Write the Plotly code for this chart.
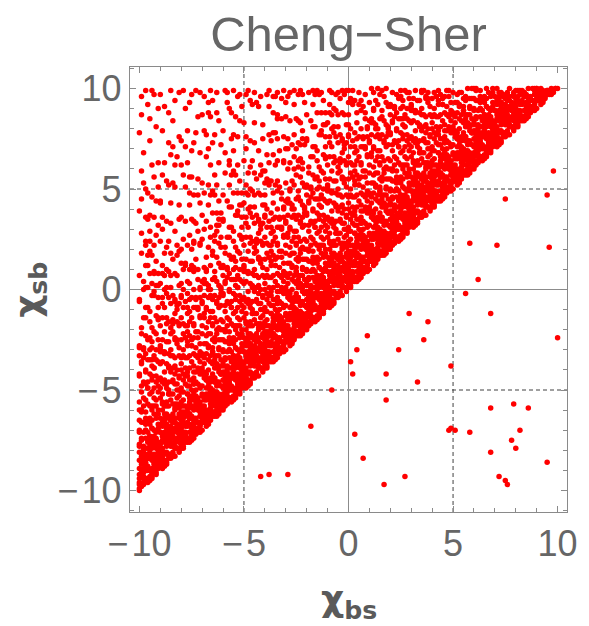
import plotly.graph_objects as go

# Scan points (chi_bs, chi_sb), in tenths of a unit.
# x range -10..-5
pts_left = [
(-100,-100),(-100,-97),(-99,-93),(-100,-92),(-98,-97),(-98,-94),(-97,-90),(-98,-89),(-96,-96),(-96,-94),(-95,-90),(-96,-88),(-94,-93),(-94,-91),(-93,-87),(-94,-85),(-92,-92),(-92,-88),(-91,-89),(-91,-84),(-99,-98),(-97,-94),(-95,-95),(-93,-91),(-92,-84),
(-100,-89),(-98,-84),(-96,-84),(-94,-78),(-92,-79),(-99,-81),(-97,-87),(-95,-78),(-93,-82),(-91,-76),(-100,-85),(-98,-79),(-96,-79),(-94,-84),(-92,-74),(-97,-83),(-95,-83),(-93,-78),(-91,-80),(-99,-86),
(-100,-78),(-98,-71),(-96,-75),(-94,-69),(-92,-64),(-99,-74),(-97,-74),(-95,-67),(-93,-73),(-91,-67),(-100,-71),(-97,-70),(-95,-73),(-92,-71),(-94,-65),(-98,-78),
(-99,-66),(-97,-67),(-95,-58),(-93,-58),(-91,-60),(-100,-60),(-98,-54),(-96,-57),(-94,-51),(-92,-46),(-99,-51),(-97,-55),(-95,-64),(-93,-49),(-91,-51),(-100,-65),(-98,-66),(-96,-49),(-94,-58),(-92,-58),(-99,-61),(-96,-66),(-94,-45),(-91,-48),(-97,-61),(-93,-54),
(-99,-48),(-97,-40),(-95,-42),(-93,-33),(-91,-36),(-100,-33),(-98,-34),(-96,-25),(-94,-26),(-92,-30),(-99,-22),(-97,-23),(-95,-16),(-93,-21),(-91,-25),(-100,-42),(-98,-46),(-96,-35),(-94,-38),(-92,-22),(-99,-36),(-96,-46),(-94,-19),(-91,-14),(-97,-32),(-93,-39),(-100,-29),(-98,-29),(-95,-30),(-92,-35),
(-99,-19),(-97,-9),(-95,-11),(-93,-1),(-91,-4),(-100,-5),(-98,4),(-96,1),(-94,17),(-92,14),(-99,18),(-97,12),(-95,19),(-93,8),(-91,8),(-100,7),(-98,-14),(-96,17),(-94,-3),(-92,2),(-97,22),(-95,8),(-93,22),(-91,-9),
(-99,28),(-97,24),(-95,37),(-93,36),(-91,51),(-100,39),(-98,53),(-96,48),(-94,62),(-92,44),(-99,59),(-97,50),(-95,29),(-93,56),(-91,63),(-96,35),(-94,46),
(-98,68),(-95,74),(-92,81),(-99,87),(-96,92),(-93,97),(-100,78),(-94,99),(-97,99),(-91,90),(-99,96),(-95,85),
(-98,0),(-96,12),(-94,3),(-92,27),(-90,44),(-97,36),(-95,24),(-93,9),(-99,45),(-91,32),
(-89,-89),(-90,-88),(-89,-84),(-90,-83),(-87,-86),(-88,-85),(-87,-81),(-87,-78),(-85,-84),(-86,-82),(-85,-78),(-86,-77),(-83,-83),(-84,-82),(-83,-79),(-83,-75),(-81,-81),(-82,-79),(-81,-76),(-82,-75),(-88,-88),(-84,-78),(-90,-85),(-85,-82),(-81,-72),
(-89,-79),(-87,-74),(-85,-74),(-83,-69),(-81,-64),(-90,-71),(-88,-76),(-86,-71),(-84,-66),(-82,-71),(-89,-73),(-87,-69),(-85,-70),(-83,-64),(-81,-69),(-90,-77),(-88,-71),(-86,-76),(-84,-71),(-82,-67),
(-89,-68),(-87,-62),(-85,-65),(-83,-57),(-81,-59),(-90,-64),(-88,-64),(-86,-58),(-84,-62),(-82,-57),(-89,-60),(-86,-63),(-83,-60),(-81,-53),(-87,-67),(-84,-57),
(-81,-50),(-83,-47),(-85,-52),(-87,-49),(-89,-57),(-82,-40),(-84,-39),(-86,-46),(-88,-41),(-90,-54),(-81,-33),(-83,-42),(-85,-41),(-87,-56),(-89,-46),(-82,-47),(-84,-45),(-86,-52),(-88,-58),(-90,-44),(-81,-43),(-84,-52),(-86,-39),(-88,-47),(-89,-52),(-83,-34),
(-81,-29),(-83,-25),(-85,-30),(-87,-26),(-89,-36),(-82,-16),(-84,-21),(-86,-16),(-88,-21),(-90,-31),(-81,-7),(-83,-12),(-85,-7),(-87,-14),(-89,-25),(-82,-25),(-84,-33),(-86,-26),(-88,-32),(-90,-18),(-81,-18),(-83,-6),(-85,-19),(-87,-37),(-89,-14),(-84,-15),(-86,-32),(-88,-9),(-90,-28),(-82,-10),
(-81,2),(-83,8),(-85,1),(-87,10),(-89,-7),(-82,22),(-84,15),(-86,24),(-88,18),(-90,3),(-81,35),(-83,29),(-85,33),(-87,21),(-89,12),(-82,7),(-84,-3),(-86,9),(-88,0),(-90,24),(-81,19),(-85,18),(-87,-2),(-89,30),
(-81,42),(-83,51),(-85,43),(-87,54),(-89,36),(-82,66),(-84,71),(-86,52),(-88,63),(-90,43),(-81,76),(-83,62),(-85,67),(-87,34),(-89,57),(-84,53),(-86,73),
(-89,79),(-86,88),(-83,94),(-90,97),(-85,99),(-81,98),(-88,91),(-84,84),
(-71,-71),(-71,-68),(-72,-66),(-71,-63),(-73,-72),(-73,-69),(-74,-67),(-73,-64),(-75,-75),(-75,-73),(-76,-71),(-75,-67),(-77,-76),(-77,-74),(-78,-72),(-77,-68),(-79,-79),(-79,-75),(-80,-78),(-80,-73),(-72,-71),(-74,-71),(-76,-76),(-78,-76),(-79,-71),
(-71,-60),(-73,-59),(-75,-63),(-77,-61),(-79,-66),(-72,-54),(-74,-64),(-76,-59),(-78,-67),(-80,-65),(-71,-56),(-73,-54),(-75,-58),(-77,-67),(-79,-61),(-74,-60),(-76,-64),(-78,-63),(-80,-69),(-72,-59),
(-71,-49),(-73,-46),(-75,-54),(-77,-52),(-79,-51),(-72,-47),(-74,-51),(-76,-48),(-78,-58),(-80,-56),(-71,-42),(-74,-47),(-76,-54),(-79,-58),(-77,-48),(-73,-53),
(-72,-39),(-74,-44),(-76,-39),(-78,-43),(-80,-49),(-71,-31),(-73,-29),(-75,-36),(-77,-34),(-79,-33),(-72,-24),(-74,-32),(-76,-45),(-78,-34),(-80,-40),(-71,-36),(-73,-41),(-75,-28),(-77,-41),(-79,-45),(-72,-34),(-75,-45),(-77,-28),(-80,-37),(-74,-38),(-78,-39),
(-72,-21),(-74,-17),(-76,-23),(-78,-18),(-80,-25),(-71,-4),(-73,-9),(-75,-4),(-77,-9),(-79,-17),(-72,5),(-74,0),(-76,3),(-78,-6),(-80,-14),(-71,-13),(-73,-21),(-75,-14),(-77,-21),(-79,-9),(-72,-9),(-75,-25),(-77,-2),(-80,-3),(-74,-9),(-78,-24),(-71,0),(-73,-4),(-76,-11),(-79,-22),
(-80,3),(-78,13),(-76,10),(-74,23),(-72,10),(-79,25),(-77,22),(-75,35),(-73,33),(-71,22),(-80,36),(-78,34),(-76,42),(-74,34),(-72,29),(-79,10),(-77,4),(-75,20),(-73,15),(-71,43),(-80,20),(-76,27),(-74,11),(-72,47),
(-72,55),(-74,47),(-76,56),(-78,51),(-80,62),(-71,68),(-73,78),(-75,69),(-77,79),(-79,57),(-72,86),(-74,73),(-76,48),(-78,71),(-80,74),(-75,56),(-77,63),
(-78,90),(-75,97),(-73,99),(-79,99),(-76,93),(-71,98),
(-62,-62),(-61,-59),(-62,-57),(-61,-54),(-64,-63),(-63,-60),(-64,-58),(-64,-55),(-66,-65),(-65,-61),(-66,-59),(-65,-56),(-68,-68),(-67,-65),(-68,-64),(-68,-60),(-70,-70),(-69,-66),(-70,-65),(-69,-62),(-63,-63),(-67,-61),(-61,-56),(-66,-63),(-70,-61),
(-62,-52),(-64,-51),(-66,-55),(-68,-54),(-70,-53),(-61,-42),(-63,-51),(-65,-50),(-67,-49),(-69,-58),(-62,-46),(-64,-46),(-66,-51),(-68,-49),(-70,-58),(-61,-48),(-63,-46),(-65,-55),(-67,-54),(-69,-54),
(-62,-41),(-64,-39),(-66,-46),(-68,-42),(-70,-48),(-61,-35),(-63,-39),(-65,-37),(-67,-45),(-69,-44),(-62,-33),(-65,-42),(-68,-45),(-70,-42),(-64,-44),(-67,-40),
(-70,-39),(-68,-32),(-66,-33),(-64,-26),(-62,-30),(-69,-27),(-67,-22),(-65,-25),(-63,-16),(-61,-25),(-70,-22),(-68,-27),(-66,-22),(-64,-33),(-62,-19),(-69,-34),(-67,-28),(-65,-31),(-63,-33),(-61,-15),(-70,-32),(-67,-35),(-65,-18),(-63,-22),(-62,-25),(-68,-19),
(-70,-18),(-68,-10),(-66,-11),(-64,-3),(-62,-9),(-69,-3),(-67,-4),(-65,5),(-63,4),(-61,-2),(-70,4),(-68,3),(-66,12),(-64,9),(-62,2),(-69,-12),(-67,-16),(-65,-5),(-63,-7),(-61,11),(-70,-7),(-68,9),(-66,0),(-64,-14),(-62,13),(-67,2),(-65,-11),(-63,16),(-61,1),(-69,3),
(-69,11),(-67,21),(-65,19),(-63,29),(-61,26),(-70,25),(-68,34),(-66,31),(-64,47),(-62,44),(-69,48),(-67,42),(-65,49),(-63,38),(-61,38),(-70,37),(-68,16),(-66,47),(-64,27),(-62,32),(-67,52),(-65,38),(-63,52),(-61,21),
(-70,53),(-68,66),(-66,62),(-64,77),(-62,63),(-69,79),(-67,88),(-65,73),(-63,88),(-61,72),(-70,87),(-68,77),(-66,86),(-64,57),(-62,84),(-67,70),(-65,94),
(-69,96),(-66,99),(-63,98),(-67,93),
(-60,-60),(-60,-57),(-59,-53),(-60,-52),(-58,-57),(-58,-54),(-57,-50),(-58,-49),(-56,-56),(-56,-54),(-55,-50),(-56,-48),(-54,-53),(-54,-51),(-53,-47),(-54,-45),(-52,-52),(-52,-48),(-51,-49),(-51,-44),(-59,-58),(-57,-54),(-55,-55),(-53,-51),(-52,-44),
(-60,-49),(-58,-44),(-56,-44),(-54,-38),(-52,-39),(-59,-41),(-57,-47),(-55,-38),(-53,-42),(-51,-36),(-60,-45),(-58,-39),(-56,-39),(-54,-44),(-52,-34),(-57,-43),(-55,-43),(-53,-38),(-51,-40),(-59,-46),
(-60,-38),(-58,-31),(-56,-35),(-54,-29),(-52,-24),(-59,-34),(-57,-34),(-55,-27),(-53,-33),(-51,-27),(-60,-31),(-57,-30),(-55,-33),(-52,-31),(-54,-25),(-58,-38),
(-59,-26),(-57,-27),(-55,-18),(-53,-18),(-51,-20),(-60,-20),(-58,-14),(-56,-17),(-54,-11),(-52,-6),(-59,-11),(-57,-15),(-55,-24),(-53,-9),(-51,-11),(-60,-25),(-58,-26),(-56,-9),(-54,-18),(-52,-18),(-59,-21),(-56,-26),(-54,-5),(-51,-8),(-57,-21),(-53,-14),
(-59,-8),(-57,0),(-55,-2),(-53,7),(-51,4),(-60,7),(-58,6),(-56,15),(-54,14),(-52,10),(-59,18),(-57,17),(-55,24),(-53,19),(-51,15),(-60,-2),(-58,-6),(-56,5),(-54,2),(-52,18),(-59,4),(-56,-6),(-54,21),(-51,26),(-57,8),(-53,1),(-60,11),(-58,11),(-55,10),(-52,5),
(-59,21),(-57,31),(-55,29),(-53,39),(-51,36),(-60,35),(-58,44),(-56,41),(-54,57),(-52,54),(-59,58),(-57,52),(-55,59),(-53,48),(-51,48),(-60,47),(-58,26),(-56,57),(-54,37),(-52,42),(-57,62),(-55,48),(-53,62),(-51,31),
(-59,68),(-57,64),(-55,77),(-53,76),(-51,91),(-60,79),(-58,93),(-56,88),(-52,84),(-59,99),(-57,90),(-55,69),(-53,96),(-56,75),(-54,86),
(-58,98),(-55,99),(-52,97),
]

# x range -5..0
pts_midleft = [
(-49,-49),(-50,-48),(-49,-44),(-50,-43),(-47,-46),(-48,-45),(-47,-41),(-47,-38),(-45,-44),(-46,-42),(-45,-38),(-46,-37),(-43,-43),(-44,-42),(-43,-39),(-43,-35),(-41,-41),(-42,-39),(-41,-36),(-42,-35),(-48,-48),(-44,-38),(-50,-45),(-45,-42),(-41,-32),
(-49,-39),(-47,-34),(-45,-34),(-43,-29),(-41,-24),(-50,-31),(-48,-36),(-46,-31),(-44,-26),(-42,-31),(-49,-33),(-47,-29),(-45,-30),(-43,-24),(-41,-29),(-50,-37),(-48,-31),(-46,-36),(-44,-31),(-42,-27),
(-49,-28),(-47,-22),(-45,-25),(-43,-17),(-41,-19),(-50,-24),(-48,-24),(-46,-18),(-44,-22),(-42,-17),(-49,-20),(-46,-23),(-43,-20),(-41,-13),(-47,-27),(-44,-17),
(-41,-10),(-43,-7),(-45,-12),(-47,-9),(-49,-17),(-42,0),(-44,1),(-46,-6),(-48,-1),(-50,-14),(-41,7),(-43,-2),(-45,-1),(-47,-16),(-49,-6),(-42,-7),(-44,-5),(-46,-12),(-48,-18),(-50,-4),(-41,-3),(-44,-12),(-46,1),(-48,-7),(-49,-12),(-43,6),
(-41,11),(-43,15),(-45,10),(-47,14),(-49,4),(-42,24),(-44,19),(-46,24),(-48,19),(-50,9),(-41,33),(-43,28),(-45,33),(-47,26),(-49,15),(-42,15),(-44,7),(-46,14),(-48,8),(-50,22),(-41,22),(-43,34),(-45,21),(-47,3),(-49,26),(-44,25),(-46,8),(-48,31),(-50,12),(-42,30),
(-41,42),(-43,48),(-45,41),(-47,50),(-49,33),(-42,62),(-44,55),(-46,64),(-48,58),(-50,43),(-41,75),(-43,69),(-45,73),(-47,61),(-49,52),(-42,47),(-44,37),(-46,49),(-48,40),(-50,64),(-41,59),(-45,58),(-47,38),(-49,70),
(-41,82),(-43,91),(-45,83),(-47,94),(-49,76),(-46,92),(-50,83),(-47,74),(-49,97),(-44,93),
(-48,99),(-45,98),(-42,96),
(-31,-31),(-31,-28),(-32,-26),(-31,-23),(-33,-32),(-33,-29),(-34,-27),(-33,-24),(-35,-35),(-35,-33),(-36,-31),(-35,-27),(-37,-36),(-37,-34),(-38,-32),(-37,-28),(-39,-39),(-39,-35),(-40,-38),(-40,-33),(-32,-31),(-34,-31),(-36,-36),(-38,-36),(-39,-31),
(-31,-20),(-33,-19),(-35,-23),(-37,-21),(-39,-26),(-32,-14),(-34,-24),(-36,-19),(-38,-27),(-40,-25),(-31,-16),(-33,-14),(-35,-18),(-37,-27),(-39,-21),(-34,-20),(-36,-24),(-38,-23),(-40,-29),(-32,-19),
(-31,-9),(-33,-6),(-35,-14),(-37,-12),(-39,-11),(-32,-7),(-34,-11),(-36,-8),(-38,-18),(-40,-16),(-31,-2),(-34,-7),(-36,-14),(-39,-18),(-37,-8),(-33,-13),
(-32,1),(-34,-4),(-36,1),(-38,-3),(-40,-9),(-31,9),(-33,11),(-35,4),(-37,6),(-39,7),(-32,16),(-34,8),(-36,-5),(-38,6),(-40,0),(-31,4),(-33,-1),(-35,12),(-37,-1),(-39,-5),(-32,6),(-35,-5),(-37,12),(-40,3),(-34,2),(-38,1),
(-32,19),(-34,23),(-36,17),(-38,22),(-40,15),(-31,36),(-33,31),(-35,36),(-37,31),(-39,23),(-32,45),(-34,40),(-36,43),(-38,34),(-40,26),(-31,27),(-33,19),(-35,26),(-37,19),(-39,31),(-32,31),(-35,15),(-37,38),(-40,37),(-34,31),(-38,16),(-31,40),(-33,36),(-36,29),(-39,18),
(-32,48),(-34,54),(-36,48),(-38,54),(-40,47),(-31,64),(-33,69),(-35,62),(-37,74),(-39,67),(-32,85),(-34,75),(-36,78),(-38,63),(-40,59),(-31,76),(-33,51),(-35,78),(-37,54),(-39,55),(-34,85),(-36,67),(-38,77),(-40,42),
(-32,95),(-34,87),(-36,96),(-38,91),(-39,97),(-36,88),(-35,96),
(-38,99),(-34,98),(-31,99),
(-22,-22),(-21,-19),(-22,-17),(-21,-14),(-24,-23),(-23,-20),(-24,-18),(-24,-15),(-26,-25),(-25,-21),(-26,-19),(-25,-16),(-28,-28),(-27,-25),(-28,-24),(-28,-20),(-30,-30),(-29,-26),(-30,-25),(-29,-22),(-23,-23),(-27,-21),(-21,-16),(-26,-23),(-30,-21),
(-22,-12),(-24,-11),(-26,-15),(-28,-14),(-30,-13),(-21,-2),(-23,-11),(-25,-10),(-27,-9),(-29,-18),(-22,-6),(-24,-6),(-26,-11),(-28,-9),(-30,-18),(-21,-8),(-23,-6),(-25,-15),(-27,-14),(-29,-14),
(-22,-1),(-24,1),(-26,-6),(-28,-2),(-30,-8),(-21,5),(-23,1),(-25,3),(-27,-5),(-29,-4),(-22,7),(-25,-2),(-28,-5),(-30,-2),(-24,-4),(-27,0),
(-30,1),(-28,8),(-26,7),(-24,14),(-22,10),(-29,13),(-27,18),(-25,15),(-23,24),(-21,15),(-30,18),(-28,13),(-26,18),(-24,7),(-22,21),(-29,6),(-27,12),(-25,9),(-23,7),(-21,25),(-30,8),(-27,5),(-25,22),(-23,18),(-22,15),(-28,21),
(-30,22),(-28,30),(-26,29),(-24,37),(-22,31),(-29,37),(-27,36),(-25,45),(-23,44),(-21,38),(-30,44),(-28,43),(-26,52),(-24,49),(-22,42),(-29,28),(-27,24),(-25,35),(-23,33),(-21,51),(-30,33),(-28,49),(-26,40),(-24,26),(-22,53),(-27,42),(-25,29),(-23,56),(-21,41),(-29,43),
(-30,53),(-28,63),(-26,60),(-24,73),(-22,60),(-29,75),(-27,72),(-25,85),(-23,83),(-21,72),(-30,86),(-28,84),(-26,92),(-24,84),(-22,79),(-29,60),(-27,54),(-25,70),(-23,65),(-21,93),(-30,70),(-26,77),(-24,61),(-22,97),
(-30,93),(-24,97),
(-28,98),(-26,99),(-23,99),(-29,96),
(-20,-20),(-20,-17),(-19,-13),(-20,-12),(-18,-17),(-18,-14),(-17,-10),(-18,-9),(-16,-16),(-16,-14),(-15,-10),(-16,-8),(-14,-13),(-14,-11),(-13,-7),(-14,-5),(-12,-12),(-12,-8),(-11,-9),(-11,-4),(-19,-18),(-17,-14),(-15,-15),(-13,-11),(-12,-4),
(-20,-9),(-18,-4),(-16,-4),(-14,2),(-12,1),(-19,-1),(-17,-7),(-15,2),(-13,-2),(-11,4),(-20,-5),(-18,1),(-16,1),(-14,-4),(-12,6),(-17,-3),(-15,-3),(-13,2),(-11,0),(-19,-6),
(-20,2),(-18,9),(-16,5),(-14,11),(-12,16),(-19,6),(-17,6),(-15,13),(-13,7),(-11,13),(-20,9),(-17,10),(-15,7),(-12,9),(-14,15),(-18,2),
(-19,14),(-17,13),(-15,22),(-13,22),(-11,20),(-20,20),(-18,26),(-16,23),(-14,29),(-12,34),(-19,29),(-17,25),(-15,16),(-13,31),(-11,29),(-20,15),(-18,14),(-16,31),(-14,22),(-12,22),(-19,19),(-16,14),(-14,35),(-11,32),(-17,19),(-13,26),
(-19,32),(-17,40),(-15,38),(-13,47),(-11,44),(-20,47),(-18,46),(-16,55),(-14,54),(-12,50),(-19,58),(-17,57),(-15,64),(-13,59),(-11,55),(-20,38),(-18,34),(-16,45),(-14,42),(-12,58),(-19,44),(-16,34),(-14,61),(-11,66),(-17,48),(-13,41),(-20,51),(-18,51),(-15,50),(-12,45),
(-19,61),(-17,71),(-15,69),(-13,79),(-11,76),(-20,75),(-18,84),(-16,81),(-14,97),(-12,94),(-19,98),(-17,92),(-15,99),(-13,88),(-11,88),(-20,87),(-18,66),(-16,97),(-14,77),(-12,82),(-15,88),(-11,71),
(-17,99),(-13,98),
(-9,-9),(-10,-8),(-9,-4),(-10,-3),(-7,-6),(-8,-5),(-7,-1),(-7,2),(-5,-4),(-6,-2),(-5,2),(-6,3),(-3,-3),(-4,-2),(-3,1),(-3,5),(-1,-1),(-2,1),(-1,4),(-2,5),(-8,-8),(-4,2),(-10,-5),(-5,-2),(-1,8),
(-9,1),(-7,6),(-5,6),(-3,11),(-1,16),(-10,9),(-8,4),(-6,9),(-4,14),(-2,9),(-9,7),(-7,11),(-5,10),(-3,16),(-1,11),(-10,3),(-8,9),(-6,4),(-4,9),(-2,13),
(-9,12),(-7,18),(-5,15),(-3,23),(-1,21),(-10,16),(-8,16),(-6,22),(-4,18),(-2,23),(-9,20),(-6,17),(-3,20),(-1,27),(-7,13),(-4,23),
(-1,30),(-3,33),(-5,28),(-7,31),(-9,23),(-2,40),(-4,41),(-6,34),(-8,39),(-10,26),(-1,47),(-3,38),(-5,39),(-7,24),(-9,34),(-2,33),(-4,35),(-6,28),(-8,22),(-10,36),(-1,37),(-4,28),(-6,41),(-8,33),(-9,28),(-3,46),
(-1,51),(-3,55),(-5,50),(-7,54),(-9,44),(-2,64),(-4,59),(-6,64),(-8,59),(-10,49),(-1,73),(-3,68),(-5,73),(-7,66),(-9,55),(-2,55),(-4,47),(-6,54),(-8,48),(-10,62),(-1,62),(-3,74),(-5,61),(-7,43),(-9,66),(-4,65),(-6,48),(-8,71),(-10,52),(-2,70),
(-1,82),(-3,88),(-5,81),(-7,90),(-9,73),(-4,95),(-8,98),(-10,83),(-9,92),(-2,87),(-4,77),(-6,89),(-8,80),(-1,99),(-5,98),(-7,78),
(-9,99),(-6,97),(-3,99),
]

# x range 0..5
pts_midright = [
(9,9),(9,12),(8,14),(9,17),(7,8),(7,11),(6,13),(7,16),(5,5),(5,7),(4,9),(5,13),(3,4),(3,6),(2,8),(3,12),(1,1),(1,5),(0,2),(0,7),(8,9),(6,9),(4,4),(2,4),(1,9),
(9,20),(7,21),(5,17),(3,19),(1,14),(8,26),(6,16),(4,21),(2,13),(0,15),(9,24),(7,26),(5,22),(3,13),(1,19),(6,20),(4,16),(2,17),(0,11),(8,21),
(9,31),(7,34),(5,26),(3,28),(1,29),(8,33),(6,29),(4,32),(2,22),(0,24),(9,38),(6,33),(4,26),(1,22),(3,32),(7,27),
(8,41),(6,36),(4,41),(2,37),(0,31),(9,49),(7,51),(5,44),(3,46),(1,47),(8,56),(6,48),(4,35),(2,46),(0,40),(9,44),(7,39),(5,52),(3,39),(1,35),(8,46),(5,35),(3,52),(0,43),(6,42),(2,41),
(8,59),(6,63),(4,57),(2,62),(0,55),(9,76),(7,71),(5,76),(3,71),(1,63),(8,85),(6,80),(4,83),(2,74),(0,66),(9,67),(7,59),(5,66),(3,59),(1,71),(8,71),(5,55),(3,78),(0,77),(6,71),(2,56),(9,80),(7,76),(4,69),(1,58),
(8,88),(6,94),(4,88),(2,94),(0,87),(0,99),(7,91),(3,94),(1,95),(0,82),
(2,99),(5,98),(8,97),
(18,18),(19,21),(18,23),(19,26),(16,17),(17,20),(16,22),(16,25),(14,15),(15,19),(14,21),(15,24),(12,12),(13,15),(12,16),(12,20),(10,10),(11,14),(10,15),(11,18),(17,17),(13,19),(19,24),(14,17),(10,19),
(18,28),(16,29),(14,25),(12,26),(10,27),(19,38),(17,29),(15,30),(13,31),(11,22),(18,34),(16,34),(14,29),(12,31),(10,22),(19,32),(17,34),(15,25),(13,26),(11,26),
(18,39),(16,41),(14,34),(12,38),(10,32),(19,45),(17,41),(15,43),(13,35),(11,36),(18,47),(15,38),(12,35),(10,38),(16,36),(13,40),
(10,41),(12,48),(14,47),(16,54),(18,50),(11,53),(13,58),(15,55),(17,64),(19,55),(10,58),(12,53),(14,58),(16,47),(18,61),(11,46),(13,52),(15,49),(17,47),(19,65),(10,48),(13,45),(15,62),(17,58),(18,55),(12,61),
(10,62),(12,70),(14,69),(16,77),(18,71),(11,77),(13,76),(15,85),(17,84),(19,78),(10,84),(12,83),(14,92),(16,89),(18,82),(11,68),(13,64),(15,75),(17,73),(19,91),(10,73),(12,89),(14,80),(16,66),(18,93),(13,82),(15,69),(17,96),(19,81),(11,83),
(10,93),(14,100),(18,100),(11,100),(13,94),
(12,98),(16,99),
(20,20),(20,23),(21,27),(20,28),(22,23),(22,26),(23,30),(22,31),(24,24),(24,26),(25,30),(24,32),(26,27),(26,29),(27,33),(26,35),(28,28),(28,32),(29,31),(29,36),(21,22),(23,26),(25,25),(27,29),(28,36),
(20,31),(22,36),(24,36),(26,42),(28,41),(21,39),(23,33),(25,42),(27,38),(29,44),(20,35),(22,41),(24,41),(26,36),(28,46),(23,37),(25,37),(27,42),(29,40),(21,34),
(20,42),(22,49),(24,45),(26,51),(28,56),(21,46),(23,46),(25,53),(27,47),(29,53),(20,49),(23,50),(25,47),(28,49),(26,55),(22,42),
(21,54),(23,53),(25,62),(27,62),(29,60),(20,60),(22,66),(24,63),(26,69),(28,74),(21,69),(23,65),(25,56),(27,71),(29,69),(20,55),(22,54),(24,71),(26,62),(28,62),(21,59),(24,54),(26,75),(29,72),(23,59),(27,66),
(21,72),(23,80),(25,78),(27,87),(29,84),(20,87),(22,86),(24,95),(26,94),(28,90),(21,98),(23,97),(27,99),(29,95),(20,78),(22,74),(24,85),(26,82),(28,98),(21,84),(24,74),(23,88),(27,81),(20,91),(22,91),(25,90),(28,85),
(25,99),(29,98),
(31,31),(30,32),(31,36),(30,37),(33,34),(32,35),(33,39),(33,42),(35,36),(34,38),(35,42),(34,43),(37,37),(36,38),(37,41),(37,45),(39,39),(38,41),(39,44),(38,45),(32,32),(36,42),(30,35),(35,38),(39,48),
(31,41),(33,46),(35,46),(37,51),(39,56),(30,49),(32,44),(34,49),(36,54),(38,49),(31,47),(33,51),(35,50),(37,56),(39,51),(30,43),(32,49),(34,44),(36,49),(38,53),
(31,52),(33,58),(35,55),(37,63),(39,61),(30,56),(32,56),(34,62),(36,58),(38,63),(31,60),(34,57),(37,60),(39,67),(33,53),(36,63),
(39,70),(37,73),(35,68),(33,71),(31,63),(38,80),(36,81),(34,74),(32,79),(30,66),(39,87),(37,78),(35,79),(33,64),(31,74),(38,73),(36,75),(34,68),(32,62),(30,76),(39,77),(36,68),(34,81),(32,73),(31,68),(37,86),
(39,91),(37,95),(35,90),(33,94),(31,84),(36,99),(32,99),(30,89),(31,95),(38,95),(36,87),(34,94),(32,88),(33,83),(34,88),(30,92),
(35,99),(38,98),
(49,49),(49,52),(48,54),(49,57),(47,48),(47,51),(46,53),(47,56),(45,45),(45,47),(44,49),(45,53),(43,44),(43,46),(42,48),(43,52),(41,41),(41,45),(40,42),(40,47),(48,49),(46,49),(44,44),(42,44),(41,49),
(49,60),(47,61),(45,57),(43,59),(41,54),(48,66),(46,56),(44,61),(42,53),(40,55),(49,64),(47,66),(45,62),(43,53),(41,59),(46,60),(44,56),(42,57),(40,51),(48,61),
(49,71),(47,74),(45,66),(43,68),(41,69),(48,73),(46,69),(44,72),(42,62),(40,64),(49,78),(46,73),(44,66),(41,62),(43,72),(47,67),
(48,81),(46,76),(44,81),(42,77),(40,71),(49,89),(47,91),(45,84),(43,86),(41,87),(48,96),(46,88),(44,75),(42,86),(40,80),(49,84),(47,79),(45,92),(43,79),(41,75),(48,86),(45,75),(43,92),(40,83),(46,82),(42,81),
(48,99),(44,97),(40,95),(47,99),(43,99),(45,95),(42,96),(41,98),
]

# x range 5..10
pts_right = [
(58,58),(59,61),(58,63),(59,66),(56,57),(57,60),(56,62),(56,65),(54,55),(55,59),(54,61),(55,64),(52,52),(53,55),(52,56),(52,60),(50,50),(51,54),(50,55),(51,58),(57,57),(53,59),(59,64),(54,57),(50,59),
(58,68),(56,69),(54,65),(52,66),(50,67),(59,78),(57,69),(55,70),(53,71),(51,62),(58,74),(56,74),(54,69),(52,71),(50,62),(59,72),(57,74),(55,65),(53,66),(51,66),
(58,79),(56,81),(54,74),(52,78),(50,72),(59,85),(57,81),(55,83),(53,75),(51,76),(58,87),(55,78),(52,75),(50,78),(56,76),(53,80),
(50,81),(52,88),(54,87),(56,94),(58,90),(51,93),(53,98),(55,95),(59,95),(50,98),(52,93),(54,98),(56,87),(51,86),(53,92),(55,89),(57,87),(50,88),(53,85),(58,95),
(60,60),(60,63),(61,67),(60,68),(62,63),(62,66),(63,70),(62,71),(64,64),(64,66),(65,70),(64,72),(66,67),(66,69),(67,73),(66,75),(68,68),(68,72),(69,71),(69,76),(61,62),(63,66),(65,65),(67,69),(68,76),
(60,71),(62,76),(64,76),(66,82),(68,81),(61,79),(63,73),(65,82),(67,78),(69,84),(60,75),(62,81),(64,81),(66,76),(68,86),(63,77),(65,77),(67,82),(69,80),(61,74),
(60,82),(62,89),(64,85),(66,91),(68,96),(61,86),(63,86),(65,93),(67,87),(69,93),(60,89),(63,90),(65,87),(68,89),(66,95),(62,82),
(61,94),(63,93),(69,100),(60,100),(65,96),(60,95),(62,94),(61,99),(64,94),(63,99),
(71,71),(70,72),(71,76),(70,77),(73,74),(72,75),(73,79),(73,82),(75,76),(74,78),(75,82),(74,83),(77,77),(76,78),(77,81),(77,85),(79,79),(78,81),(79,84),(78,85),(72,72),(76,82),(70,75),(75,78),(79,88),
(71,81),(73,86),(75,86),(77,91),(79,96),(70,89),(72,84),(74,89),(76,94),(78,89),(71,87),(73,91),(75,90),(77,96),(79,91),(70,83),(72,89),(74,84),(76,89),(78,93),
(71,92),(73,98),(75,95),(70,96),(72,96),(76,98),(71,100),(74,97),(77,100),(73,93),
(89,89),(89,92),(88,94),(89,97),(87,88),(87,91),(86,93),(87,96),(85,85),(85,87),(84,89),(85,93),(83,84),(83,86),(82,88),(83,92),(81,81),(81,85),(80,82),(80,87),(88,89),(86,89),(84,84),(82,84),(81,89),
(89,100),(85,97),(83,99),(81,94),(86,96),(82,93),(80,95),(83,93),(81,99),(86,100),(84,96),(82,97),(80,91),
(98,98),(96,97),(97,100),(94,95),(95,99),(92,92),(93,95),(92,96),(92,100),(90,90),(91,94),(90,95),(91,98),(97,97),(93,99),(94,97),(90,99),(99,100),(100,100),
]

# further points filling the region above the diagonal, x range -10..0
pts_fill_left = [
(-100,-96),(-98,-96),(-96,-90),(-94,-91),(-92,-91),(-99,-87),(-97,-89),(-95,-81),(-93,-83),(-91,-78),(-95,-94),(-91,-88),
(-99,-83),(-97,-70),(-95,-76),(-93,-62),(-91,-69),(-100,-70),(-98,-79),(-96,-71),(-94,-60),(-92,-75),(-100,-77),(-97,-64),(-94,-69),(-91,-62),
(-99,-60),(-97,-47),(-95,-52),(-93,-39),(-91,-45),(-100,-43),(-98,-58),(-96,-49),(-94,-35),(-92,-55),(-100,-56),(-97,-41),(-94,-43),(-92,-43),
(-99,-37),(-97,-14),(-95,-24),(-93,-3),(-91,-15),(-100,-6),(-98,-30),(-96,-9),(-94,-29),(-92,-13),(-100,-28),(-97,1),(-95,-35),(-91,2),
(-82,-79),(-84,-83),(-86,-82),(-88,-86),(-90,-85),(-81,-71),(-83,-70),(-85,-76),(-87,-75),(-89,-81),(-84,-70),(-88,-73),
(-81,-63),(-83,-59),(-85,-55),(-87,-67),(-89,-56),(-82,-54),(-84,-63),(-86,-52),(-88,-62),(-90,-71),(-82,-50),(-85,-68),(-87,-58),(-89,-66),
(-81,-44),(-83,-38),(-85,-33),(-87,-47),(-89,-31),(-82,-27),(-84,-46),(-86,-38),(-88,-45),(-90,-37),(-83,-24),(-86,-50),(-88,-31),(-90,-49),
(-81,-17),(-83,-5),(-85,7),(-87,-17),(-89,-4),(-82,17),(-84,-17),(-86,-4),(-88,7),(-90,-29),(-82,-8),(-85,-22),(-87,1),(-89,8),
(-71,-67),(-73,-71),(-75,-69),(-77,-74),(-79,-78),(-72,-60),(-74,-66),(-76,-62),(-78,-68),(-80,-67),(-76,-75),(-80,-77),
(-72,-56),(-74,-47),(-76,-57),(-78,-47),(-80,-58),(-71,-41),(-73,-54),(-75,-50),(-77,-43),(-79,-62),(-71,-48),(-74,-41),(-77,-52),(-80,-51),
(-72,-33),(-74,-24),(-76,-33),(-78,-24),(-80,-34),(-71,-14),(-73,-33),(-75,-28),(-77,-18),(-79,-42),(-71,-27),(-74,-18),(-77,-26),(-79,-30),
(-72,-10),(-74,9),(-76,-5),(-78,12),(-80,-4),(-71,23),(-73,-5),(-75,12),(-77,-12),(-79,0),(-71,1),(-74,24),(-76,-16),(-80,13),
(-69,-66),(-67,-66),(-65,-61),(-63,-61),(-61,-56),(-70,-60),(-68,-55),(-66,-57),(-64,-52),(-62,-54),(-67,-53),(-63,-48),
(-70,-52),(-68,-44),(-66,-36),(-64,-44),(-62,-29),(-69,-41),(-67,-46),(-65,-31),(-63,-37),(-61,-42),(-69,-37),(-66,-49),(-64,-35),(-62,-39),
(-70,-33),(-68,-23),(-66,-14),(-64,-24),(-62,-4),(-69,-14),(-67,-29),(-65,-17),(-63,-20),(-61,-8),(-68,-9),(-65,-29),(-63,-6),(-61,-20),
(-70,-6),(-68,10),(-66,26),(-64,6),(-62,23),(-69,30),(-67,0),(-65,17),(-63,32),(-61,0),(-69,5),(-66,-3),(-64,24),(-62,35),
(-60,-56),(-58,-56),(-56,-50),(-54,-51),(-52,-51),(-59,-47),(-57,-49),(-55,-41),(-53,-43),(-51,-38),(-55,-54),(-51,-48),
(-59,-43),(-57,-30),(-55,-36),(-53,-22),(-51,-29),(-60,-30),(-58,-39),(-56,-31),(-54,-20),(-52,-35),(-60,-37),(-57,-24),(-54,-29),(-51,-22),
(-59,-20),(-57,-7),(-55,-12),(-53,1),(-51,-5),(-60,-3),(-58,-18),(-56,-9),(-54,5),(-52,-15),(-60,-16),(-57,-1),(-54,-3),(-52,-3),
(-59,3),(-57,26),(-55,16),(-53,37),(-51,25),(-60,34),(-58,10),(-56,31),(-54,11),(-52,27),(-60,12),(-57,41),(-55,5),(-51,42),
(-42,-39),(-44,-43),(-46,-42),(-48,-46),(-50,-45),(-41,-31),(-43,-30),(-45,-36),(-47,-35),(-49,-41),(-44,-30),(-48,-33),
(-41,-23),(-43,-19),(-45,-15),(-47,-27),(-49,-16),(-42,-14),(-44,-23),(-46,-12),(-48,-22),(-50,-31),(-42,-10),(-45,-28),(-47,-18),(-49,-26),
(-41,-4),(-43,2),(-45,7),(-47,-7),(-49,9),(-42,13),(-44,-6),(-46,2),(-48,-5),(-50,3),(-43,16),(-46,-10),(-48,9),(-50,-9),
(-41,23),(-43,35),(-45,47),(-47,23),(-49,36),(-42,57),(-44,23),(-46,36),(-48,47),(-50,11),(-42,32),(-45,18),(-47,41),(-49,48),
(-31,-27),(-33,-31),(-35,-29),(-37,-34),(-39,-38),(-32,-20),(-34,-26),(-36,-22),(-38,-28),(-40,-27),(-36,-35),(-40,-37),
(-32,-16),(-34,-7),(-36,-17),(-38,-7),(-40,-18),(-31,-1),(-33,-14),(-35,-10),(-37,-3),(-39,-22),(-31,-8),(-34,-1),(-37,-12),(-40,-11),
(-32,7),(-34,16),(-36,7),(-38,16),(-40,6),(-31,26),(-33,7),(-35,12),(-37,22),(-39,-2),(-31,13),(-34,22),(-37,14),(-39,10),
(-32,30),(-34,49),(-36,35),(-38,52),(-40,36),(-31,63),(-33,35),(-35,52),(-37,28),(-39,40),(-31,41),(-34,64),(-36,24),(-40,53),
(-29,-26),(-27,-26),(-25,-21),(-23,-21),(-21,-16),(-30,-20),(-28,-15),(-26,-17),(-24,-12),(-22,-14),(-27,-13),(-23,-8),
(-30,-12),(-28,-4),(-26,4),(-24,-4),(-22,11),(-29,-1),(-27,-6),(-25,9),(-23,3),(-21,-2),(-29,3),(-26,-9),(-24,5),(-22,1),
(-30,7),(-28,17),(-26,26),(-24,16),(-22,36),(-29,26),(-27,11),(-25,23),(-23,20),(-21,32),(-28,31),(-25,11),(-23,34),(-21,20),
(-30,34),(-28,50),(-26,66),(-24,46),(-22,63),(-29,70),(-27,40),(-25,57),(-23,72),(-21,40),(-29,45),(-26,37),(-24,64),(-22,75),
(-20,-16),(-18,-16),(-16,-10),(-14,-11),(-12,-11),(-19,-7),(-17,-9),(-15,-1),(-13,-3),(-11,2),(-15,-14),(-11,-8),
(-19,-3),(-17,10),(-15,4),(-13,18),(-11,11),(-20,10),(-18,1),(-16,9),(-14,20),(-12,5),(-20,3),(-17,16),(-14,11),(-11,18),
(-19,20),(-17,33),(-15,28),(-13,41),(-11,35),(-20,37),(-18,22),(-16,31),(-14,45),(-12,25),(-20,24),(-17,39),(-14,37),(-12,37),
(-19,43),(-17,66),(-15,56),(-13,77),(-11,65),(-20,74),(-18,50),(-16,71),(-14,51),(-12,67),(-20,52),(-17,81),(-15,45),(-11,82),
(-2,1),(-4,-3),(-6,-2),(-8,-6),(-10,-5),(-1,9),(-3,10),(-5,4),(-7,5),(-9,-1),(-4,10),(-8,7),
(-1,17),(-3,21),(-5,25),(-7,13),(-9,24),(-2,26),(-4,17),(-6,28),(-8,18),(-10,9),(-2,30),(-5,12),(-7,22),(-9,14),
(-1,36),(-3,42),(-5,47),(-7,33),(-9,49),(-2,53),(-4,34),(-6,42),(-8,35),(-10,43),(-3,56),(-6,30),(-8,49),(-10,31),
(-1,63),(-3,75),(-5,87),(-7,63),(-9,76),(-2,97),(-4,63),(-6,76),(-8,87),(-10,51),(-2,72),(-5,58),(-7,81),(-9,88),
]

# further points filling the region above the diagonal, x range 0..10
pts_fill_right = [
(9,13),(7,9),(5,11),(3,6),(1,2),(8,20),(6,14),(4,18),(2,12),(0,13),(4,5),(0,3),
(8,24),(6,33),(4,23),(2,33),(0,22),(9,39),(7,26),(5,30),(3,37),(1,18),(9,32),(6,39),(3,28),(0,29),
(8,47),(6,56),(4,47),(2,56),(0,46),(9,66),(7,47),(5,52),(3,62),(1,38),(9,53),(6,62),(3,54),(1,50),
(8,70),(6,89),(4,75),(2,92),(0,76),(7,75),(5,92),(3,68),(1,80),(9,81),(4,64),(0,93),
(11,14),(13,14),(15,19),(17,19),(19,24),(10,20),(12,25),(14,23),(16,28),(18,26),(13,27),(17,32),
(10,28),(12,36),(14,44),(16,36),(18,51),(11,39),(13,34),(15,49),(17,43),(19,38),(11,43),(14,31),(16,45),(18,41),
(10,47),(12,57),(14,66),(16,56),(18,76),(11,66),(13,51),(15,63),(17,60),(19,72),(12,71),(15,51),(17,74),(19,60),
(10,74),(12,90),(16,86),(13,80),(15,97),(19,80),(11,85),(14,77),
(20,24),(22,24),(24,30),(26,29),(28,29),(21,33),(23,31),(25,39),(27,37),(29,42),(25,26),(29,32),
(21,37),(23,50),(25,44),(27,58),(29,51),(20,50),(22,41),(24,49),(26,60),(28,45),(20,43),(23,56),(26,51),(29,58),
(21,60),(23,73),(25,68),(27,81),(29,75),(20,77),(22,62),(24,71),(26,85),(28,65),(20,64),(23,79),(26,77),(28,77),
(21,83),(25,96),(22,90),(26,91),(20,92),(25,85),
(38,41),(36,37),(34,38),(32,34),(30,35),(39,49),(37,50),(35,44),(33,45),(31,39),(36,50),(32,47),
(39,57),(37,61),(35,65),(33,53),(31,64),(38,66),(36,57),(34,68),(32,58),(30,49),(38,70),(35,52),(33,62),(31,54),
(39,76),(37,82),(35,87),(33,73),(31,89),(38,93),(36,74),(34,82),(32,75),(30,83),(37,96),(34,70),(32,89),(30,71),
(30,91),(35,98),
(49,53),(47,49),(45,51),(43,46),(41,42),(48,60),(46,54),(44,58),(42,52),(40,53),(44,45),(40,43),
(48,64),(46,73),(44,63),(42,73),(40,62),(49,79),(47,66),(45,70),(43,77),(41,58),(49,72),(46,79),(43,68),(40,69),
(48,87),(46,96),(44,87),(42,96),(40,86),(47,87),(45,92),(41,78),(49,93),(43,94),(41,90),
(51,54),(53,54),(55,59),(57,59),(59,64),(50,60),(52,65),(54,63),(56,68),(58,66),(53,67),(57,72),
(50,68),(52,76),(54,84),(56,76),(58,91),(51,79),(53,74),(55,89),(57,83),(59,78),(51,83),(54,71),(56,85),(58,81),
(50,87),(52,97),(56,96),(53,91),(57,100),(55,91),(59,100),
(60,64),(62,64),(64,70),(66,69),(68,69),(61,73),(63,71),(65,79),(67,77),(69,82),(65,66),(69,72),
(61,77),(63,90),(65,84),(67,98),(69,91),(60,90),(62,81),(64,89),(66,100),(68,85),(60,83),(63,96),(66,91),(69,98),
(61,100),
(78,81),(76,77),(74,78),(72,74),(70,75),(79,89),(77,90),(75,84),(73,85),(71,79),(76,90),(72,87),
(79,97),(73,93),(76,97),(72,98),(70,89),(75,92),(71,94),
(89,93),(87,89),(85,91),(83,86),(81,82),(88,100),(86,94),(84,98),(82,92),(80,93),(84,85),(80,83),
(91,94),(93,94),(95,99),(97,99),(90,100),
]

# extra points in the dense band just above the diagonal
pts_band = [
(-100,-94),(-99,-84),(-98,-91),(-97,-79),(-96,-94),(-95,-84),(-94,-89),(-93,-77),(-92,-89),(-91,-83),(-96,-82),(-94,-75),
(-81,-75),(-82,-67),(-83,-76),(-84,-66),(-85,-83),(-86,-75),(-87,-82),(-88,-72),(-89,-86),(-90,-82),(-85,-71),(-87,-68),
(-80,-74),(-79,-64),(-78,-71),(-77,-59),(-76,-74),(-75,-64),(-74,-69),(-73,-57),(-72,-69),(-71,-63),(-76,-62),(-74,-55),
(-61,-55),(-62,-47),(-63,-56),(-64,-46),(-65,-63),(-66,-55),(-67,-62),(-68,-52),(-69,-66),(-70,-62),(-65,-51),(-67,-48),
(-60,-54),(-59,-44),(-58,-51),(-57,-39),(-56,-54),(-55,-44),(-54,-49),(-53,-37),(-52,-49),(-51,-43),(-56,-42),(-54,-35),
(-41,-35),(-42,-27),(-43,-36),(-44,-26),(-45,-43),(-46,-35),(-47,-42),(-48,-32),(-49,-46),(-50,-42),(-45,-31),(-47,-28),
(-40,-34),(-39,-24),(-38,-31),(-37,-19),(-36,-34),(-35,-24),(-34,-29),(-33,-17),(-32,-29),(-31,-23),(-36,-22),(-34,-15),
(-21,-15),(-22,-7),(-23,-16),(-24,-6),(-25,-23),(-26,-15),(-27,-22),(-28,-12),(-29,-26),(-30,-22),(-25,-11),(-27,-8),
(-20,-14),(-19,-4),(-18,-11),(-17,1),(-16,-14),(-15,-4),(-14,-9),(-13,3),(-12,-9),(-11,-3),(-16,-2),(-14,5),
(-1,5),(-2,13),(-3,4),(-4,14),(-5,-3),(-6,5),(-7,-2),(-8,8),(-9,-6),(-10,-2),(-5,9),(-7,12),
(0,6),(1,16),(2,9),(3,21),(4,6),(5,16),(6,11),(7,23),(8,11),(9,17),(4,18),(6,25),
(19,25),(18,33),(17,24),(16,34),(15,17),(14,25),(13,18),(12,28),(11,14),(10,18),(15,29),(13,32),
(20,26),(21,36),(22,29),(23,41),(24,26),(25,36),(26,31),(27,43),(28,31),(29,37),(24,38),(26,45),
(39,45),(38,53),(37,44),(36,54),(35,37),(34,45),(33,38),(32,48),(31,34),(30,38),(35,49),(33,52),
(40,46),(41,56),(42,49),(43,61),(44,46),(45,56),(46,51),(47,63),(48,51),(49,57),(44,58),(46,65),
(59,65),(58,73),(57,64),(56,74),(55,57),(54,65),(53,58),(52,68),(51,54),(50,58),(55,69),(53,72),
(60,66),(61,76),(62,69),(63,81),(64,66),(65,76),(66,71),(67,83),(68,71),(69,77),(64,78),(66,85),
(79,85),(78,93),(77,84),(76,94),(75,77),(74,85),(73,78),(72,88),(71,74),(70,78),(75,89),(73,92),
(80,86),(81,96),(82,89),(84,86),(85,96),(86,91),(88,91),(89,97),(84,98),
(95,97),(93,98),(91,94),(90,98),
]

# more points in the dense band just above the diagonal
pts_band2 = [
(-100,-99),(-99,-91),(-98,-81),(-97,-94),(-96,-84),(-95,-73),(-94,-94),(-93,-86),(-92,-78),(-91,-87),(-100,-81),(-99,-75),(-98,-93),(-97,-86),(-96,-76),(-95,-93),(-94,-79),(-93,-70),(-92,-86),(-91,-81),
(-81,-80),(-82,-74),(-83,-66),(-84,-81),(-85,-73),(-86,-64),(-87,-87),(-88,-81),(-89,-75),(-90,-86),(-81,-62),(-82,-58),(-83,-78),(-84,-73),(-85,-65),(-86,-84),(-87,-72),(-88,-65),(-89,-83),(-90,-80),
(-80,-79),(-79,-71),(-78,-61),(-77,-74),(-76,-64),(-75,-53),(-74,-74),(-73,-66),(-72,-58),(-71,-67),(-80,-61),(-79,-55),(-78,-73),(-77,-66),(-76,-56),(-75,-73),(-74,-59),(-73,-50),(-72,-66),(-71,-61),
(-61,-60),(-62,-54),(-63,-46),(-64,-61),(-65,-53),(-66,-44),(-67,-67),(-68,-61),(-69,-55),(-70,-66),(-61,-42),(-62,-38),(-63,-58),(-64,-53),(-65,-45),(-66,-64),(-67,-52),(-68,-45),(-69,-63),(-70,-60),
(-60,-59),(-59,-51),(-58,-41),(-57,-54),(-56,-44),(-55,-33),(-54,-54),(-53,-46),(-52,-38),(-51,-47),(-60,-41),(-59,-35),(-58,-53),(-57,-46),(-56,-36),(-55,-53),(-54,-39),(-53,-30),(-52,-46),(-51,-41),
(-41,-40),(-42,-34),(-43,-26),(-44,-41),(-45,-33),(-46,-24),(-47,-47),(-48,-41),(-49,-35),(-50,-46),(-41,-22),(-42,-18),(-43,-38),(-44,-33),(-45,-25),(-46,-44),(-47,-32),(-48,-25),(-49,-43),(-50,-40),
(-40,-39),(-39,-31),(-38,-21),(-37,-34),(-36,-24),(-35,-13),(-34,-34),(-33,-26),(-32,-18),(-31,-27),(-40,-21),(-39,-15),(-38,-33),(-37,-26),(-36,-16),(-35,-33),(-34,-19),(-33,-10),(-32,-26),(-31,-21),
(-21,-20),(-22,-14),(-23,-6),(-24,-21),(-25,-13),(-26,-4),(-27,-27),(-28,-21),(-29,-15),(-30,-26),(-21,-2),(-22,2),(-23,-18),(-24,-13),(-25,-5),(-26,-24),(-27,-12),(-28,-5),(-29,-23),(-30,-20),
(-20,-19),(-19,-11),(-18,-1),(-17,-14),(-16,-4),(-15,7),(-14,-14),(-13,-6),(-12,2),(-11,-7),(-20,-1),(-19,5),(-18,-13),(-17,-6),(-16,4),(-15,-13),(-14,1),(-13,10),(-12,-6),(-11,-1),
(-1,0),(-2,6),(-3,14),(-4,-1),(-5,7),(-6,16),(-7,-7),(-8,-1),(-9,5),(-10,-6),(-1,18),(-2,22),(-3,2),(-4,7),(-5,15),(-6,-4),(-7,8),(-8,15),(-9,-3),(-10,0),
(0,1),(1,9),(2,19),(3,6),(4,16),(5,27),(6,6),(7,14),(8,22),(9,13),(0,19),(1,25),(2,7),(3,14),(4,24),(5,7),(6,21),(7,30),(8,14),(9,19),
(19,20),(18,26),(17,34),(16,19),(15,27),(14,36),(13,13),(12,19),(11,25),(10,14),(19,38),(18,42),(17,22),(16,27),(15,35),(14,16),(13,28),(12,35),(11,17),(10,20),
(20,21),(21,29),(22,39),(23,26),(24,36),(25,47),(26,26),(27,34),(28,42),(29,33),(20,39),(21,45),(22,27),(23,34),(24,44),(25,27),(26,41),(27,50),(28,34),(29,39),
(39,40),(38,46),(37,54),(36,39),(35,47),(34,56),(33,33),(32,39),(31,45),(30,34),(39,58),(38,62),(37,42),(36,47),(35,55),(34,36),(33,48),(32,55),(31,37),(30,40),
(40,41),(41,49),(42,59),(43,46),(44,56),(45,67),(46,46),(47,54),(48,62),(49,53),(40,59),(41,65),(42,47),(43,54),(44,64),(45,47),(46,61),(47,70),(48,54),(49,59),
(59,60),(58,66),(57,74),(56,59),(55,67),(54,76),(53,53),(52,59),(51,65),(50,54),(59,78),(58,82),(57,62),(56,67),(55,75),(54,56),(53,68),(52,75),(51,57),(50,60),
(60,61),(61,69),(62,79),(63,66),(64,76),(65,87),(66,66),(67,74),(68,82),(69,73),(60,79),(61,85),(62,67),(63,74),(64,84),(65,67),(66,81),(67,90),(68,74),(69,79),
(79,80),(78,86),(77,94),(76,79),(75,87),(74,96),(73,73),(72,79),(71,85),(70,74),(79,98),(77,82),(76,87),(75,95),(74,76),(73,88),(72,95),(71,77),(70,80),
(80,81),(81,89),(82,99),(83,86),(84,96),(86,86),(87,94),(89,93),(80,99),(82,87),(83,94),(85,87),(88,94),(89,99),
(99,100),(93,93),(92,99),(90,94),(94,96),(91,97),(90,100),
]

# isolated points below the diagonal
pts_lower = [
(56,-2),(29,-12),(68,-12),(38,-16),(9,-23),(36,-25),(100,-24),(4,-30),(24,-30),(1,-36),
(2,-42),(18,-42),(49,-38),(33,-46),(-8,-50),(18,-55),(68,-59),(79,-57),(86,-59),(48,-70),
(49,-69),(51,-70),(58,-71),(82,-70),(3,-72),(78,-75),(80,-79),(68,-81),(7,-84),(95,-86),
(72,-93),(75,-95),(76,-97),(27,-93),(17,-97),(98,59),(75,45),(95,47),(58,23),(71,22),
(96,21),(62,5),(-18,-68),(-42,-93),(-38,-92),(-29,-92),
]

title_text = "Cheng\u2212Sher"
x_title = "<b>\u03c7<sub>bs</sub></b>"
y_title = "<b>\u03c7<sub>sb</sub></b>"
tick_values = [-10, -5, 0, 5, 10]
tick_labels = ["\u2212\u200a10", "\u2212\u200a5", "0", "5", "10"]
dashed_at = [-5, 5]
solid_at = [0]

all_pts = (pts_left + pts_midleft + pts_midright + pts_right
           + pts_fill_left + pts_fill_right + pts_band + pts_band2 + pts_lower)
chi_bs = [p[0] / 10 for p in all_pts]
chi_sb = [p[1] / 10 for p in all_pts]

FONT = "Liberation Sans, Arial, sans-serif"
GRAY = "#8a8a8a"
TXT = "#666666"

fig = go.Figure(go.Scatter(
    x=chi_bs, y=chi_sb, mode="markers",
    marker=dict(color="#ff0000", size=5.5, line=dict(width=0)),
    hoverinfo="skip", showlegend=False))

axis_common = dict(
    showline=True, linecolor=GRAY, linewidth=1.3, mirror="allticks",
    ticks="inside", ticklen=6, tickwidth=1, tickcolor=GRAY,
    tickmode="array", tickvals=tick_values, ticktext=tick_labels,
    minor=dict(tickmode="linear", tick0=0, dtick=1, ticks="inside", ticklen=3.5,
               tickwidth=1, tickcolor=GRAY, showgrid=False),
    showgrid=False, zeroline=False,
    tickfont=dict(family=FONT, size=36, color=TXT),
)
fig.update_xaxes(range=[-10.45, 10.45], **axis_common)
fig.update_yaxes(range=[-11.07, 11.07], **axis_common)

shapes = []
for v in dashed_at + solid_at:
    style = dict(color="#404040", width=1, dash="4px,3px") if v in dashed_at else dict(color="#8c8c8c", width=1)
    shapes.append(dict(type="line", xref="x", yref="paper", x0=v, x1=v, y0=0, y1=1, line=style, layer="below"))
    shapes.append(dict(type="line", xref="paper", yref="y", x0=0, x1=1, y0=v, y1=v, line=style, layer="below"))

fig.update_layout(
    width=589, height=626,
    margin=dict(l=130, r=14, t=67, b=114),
    plot_bgcolor="white", paper_bgcolor="white",
    shapes=shapes,
    title=dict(text=title_text, x=0.5, xref="paper", xanchor="center",
               y=1 - 34 / 626, yref="container", yanchor="middle",
               font=dict(family=FONT, size=49, color=TXT)),
    annotations=[
        dict(text=x_title, xref="paper", yref="paper", x=0.5, y=-0.2,
             xanchor="center", yanchor="middle", showarrow=False,
             font=dict(family="DejaVu Sans, sans-serif", size=36, color="#5a5a5a")),
        dict(text=y_title, xref="paper", yref="paper", x=-0.228, y=0.5,
             xanchor="center", yanchor="middle", showarrow=False, textangle=-90,
             font=dict(family="DejaVu Sans, sans-serif", size=36, color="#5a5a5a")),
    ],
)

fig.write_html("out.html")
